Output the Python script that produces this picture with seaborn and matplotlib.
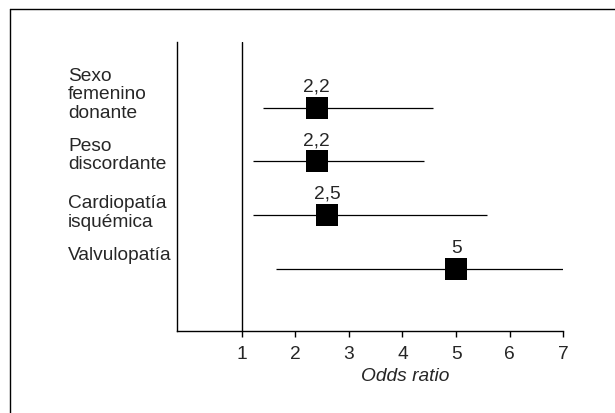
import matplotlib
matplotlib.use("Agg")
import matplotlib.pyplot as plt
import matplotlib.transforms as mtransforms
from matplotlib.lines import Line2D
import pandas as pd
import seaborn as sns

factors = ["Sexo\nfemenino\ndonante", "Peso\ndiscordante", "Cardiopatía\nisquémica", "Valvulopatía"]
odds_ratio = [2.4, 2.4, 2.6, 5.0]
ci_low = [1.4, 1.22, 1.21, 1.65]
ci_high = [4.57, 4.4, 5.58, 7.0]
or_labels = ["2,2", "2,2", "2,5", "5"]
x_ticks = [1, 2, 3, 4, 5, 6, 7]

df = pd.DataFrame({"row": range(len(factors)), "factor": factors,
                   "or": odds_ratio, "lo": ci_low, "hi": ci_high, "lab": or_labels})

sns.set_theme(style="white")
plt.rcParams["font.family"] = ["Liberation Sans", "DejaVu Sans"]
fs = 13.8

fig = plt.figure(figsize=(6.15, 4.14), dpi=100)
ax = fig.add_axes([0.2883, 0.1973, 0.6276, 0.6988])

ax.hlines(df["row"], df["lo"], df["hi"], color="black", lw=0.9)
sns.scatterplot(data=df, x="or", y="row", marker="s", s=274, color="black",
                edgecolor="black", linewidth=0, ax=ax, zorder=3, legend=False)
ax.axvline(1, color="black", lw=1.0)

for r, x, t in zip(df["row"], df["or"], df["lab"]):
    ax.annotate(t, (x, r), xytext=(0, 9.5), textcoords="offset points",
                ha="center", va="bottom", fontsize=fs)

# category labels sit to the left of the axes
trans = mtransforms.blended_transform_factory(fig.transFigure, ax.transData)
label_y = [-0.26, 0.87, 1.94, 2.73]
for name, y in zip(df["factor"], label_y):
    fig.text(0.1106, y, name, transform=trans, ha="left", va="center",
             fontsize=fs, linespacing=1.12)

ax.set_xlim(-0.2, 7)
ax.set_ylim(4.16, -1.22)
ax.set_xticks(x_ticks)
ax.set_xticklabels([str(t) for t in x_ticks])
ax.set_yticks([])
ax.set_ylabel("")
ax.set_xlabel("Odds ratio", style="italic", fontsize=fs, va="top")
ax.xaxis.set_label_coords(0.59, -0.122)
ax.tick_params(axis="x", direction="out", length=4, width=1, color="black",
               pad=6, labelsize=fs, bottom=True)
sns.despine(ax=ax)
for s in ["left", "bottom"]:
    ax.spines[s].set_color("black")
    ax.spines[s].set_linewidth(1.0)

# outer frame (top and left edges only)
fig.add_artist(Line2D([0.0163, 1], [0.9758, 0.9758], color="black", lw=1.0))
fig.add_artist(Line2D([0.0163, 0.0163], [0, 0.9758], color="black", lw=1.0))

fig.savefig("out.png", dpi=100)
